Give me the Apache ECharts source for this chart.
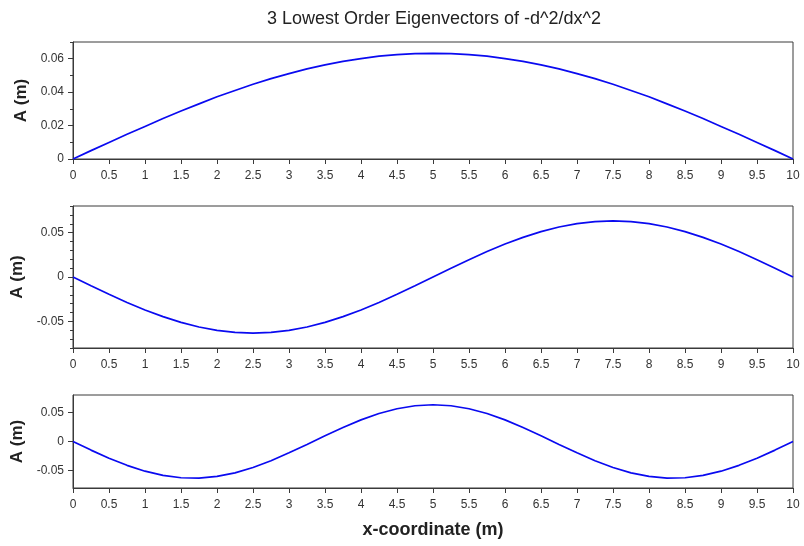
<!DOCTYPE html>
<html lang="en">
<head>
    <meta charset="UTF-8">
    <title>3 Lowest Order Eigenvectors</title>
    <script src="https://cdn.jsdelivr.net/npm/echarts@6/dist/echarts.min.js"></script>
    <style>
        html, body { margin: 0; padding: 0; background: #fff; }
        #chart { width: 804px; height: 546px; }
    </style>
</head>
<body>
    <div id="chart"></div>
    <script>
        // x positions (m)
        var xValues = [0, 0.25, 0.5, 0.75, 1, 1.25, 1.5, 1.75, 2, 2.25, 2.5, 2.75, 3, 3.25, 3.5, 3.75, 4, 4.25, 4.5, 4.75,
                       5, 5.25, 5.5, 5.75, 6, 6.25, 6.5, 6.75, 7, 7.25, 7.5, 7.75, 8, 8.25, 8.5, 8.75, 9, 9.25, 9.5, 9.75, 10];

        // amplitudes
        var mode1 = [0, 0.0050, 0.0099, 0.0148, 0.0195, 0.0242, 0.0287, 0.0330, 0.0372, 0.0410,
                     0.0447, 0.0481, 0.0511, 0.0539, 0.0563, 0.0584, 0.0601, 0.0615, 0.0624, 0.0630,
                     0.0632, 0.0630, 0.0624, 0.0615, 0.0601, 0.0584, 0.0563, 0.0539, 0.0511, 0.0481,
                     0.0447, 0.0410, 0.0372, 0.0330, 0.0287, 0.0242, 0.0195, 0.0148, 0.0099, 0.0050, 0];
        var mode2 = [0, -0.0099, -0.0195, -0.0287, -0.0372, -0.0447, -0.0511, -0.0563, -0.0601, -0.0624,
                     -0.0632, -0.0624, -0.0601, -0.0563, -0.0511, -0.0447, -0.0372, -0.0287, -0.0195, -0.0099,
                     0, 0.0099, 0.0195, 0.0287, 0.0372, 0.0447, 0.0511, 0.0563, 0.0601, 0.0624,
                     0.0632, 0.0624, 0.0601, 0.0563, 0.0511, 0.0447, 0.0372, 0.0287, 0.0195, 0.0099, 0];
        var mode3 = [0, -0.0148, -0.0287, -0.0410, -0.0511, -0.0584, -0.0624, -0.0630, -0.0601, -0.0539,
                     -0.0447, -0.0330, -0.0195, -0.0050, 0.0099, 0.0242, 0.0372, 0.0481, 0.0563, 0.0615,
                     0.0632, 0.0615, 0.0563, 0.0481, 0.0372, 0.0242, 0.0099, -0.0050, -0.0195, -0.0330,
                     -0.0447, -0.0539, -0.0601, -0.0630, -0.0624, -0.0584, -0.0511, -0.0410, -0.0287, -0.0148, 0];

        // y tick values
        var topLabelTicks = [0, 0.02, 0.04, 0.06];
        var topMinorTicks = [0.01, 0.03, 0.05, 0.07];
        var midLabelTicks = [-0.05, 0, 0.05];
        var midMinorTicks = [-0.08, -0.07, -0.06, -0.04, -0.03, -0.02, -0.01, 0.01, 0.02, 0.03, 0.04, 0.06, 0.07, 0.08];
        var botLabelTicks = [-0.05, 0, 0.05];

        var titleText = '3 Lowest Order Eigenvectors of -d^2/dx^2';
        var yName = 'A (m)';
        var xName = 'x-coordinate (m)';

        var font = 'Liberation Sans, Arial, sans-serif';
        var axisColor = '#3a3a3a';
        var lineColor = '#0a0af0';

        function pairs(ys) {
            return xValues.map(function (x, i) { return [x, ys[i]]; });
        }

        function xAxisFor(gridIndex, withName) {
            var ax = {
                type: 'value', gridIndex: gridIndex, min: 0, max: 10, interval: 0.5,
                axisLine: { show: true, onZero: false, lineStyle: { color: axisColor, width: 1 } },
                axisTick: { show: true, inside: false, length: 5, lineStyle: { color: axisColor } },
                axisLabel: { margin: 11, color: '#333', fontSize: 12, fontFamily: font },
                splitLine: { show: false }
            };
            if (withName) {
                ax.name = xName;
                ax.nameLocation = 'middle';
                ax.nameGap = 33;
                ax.nameTextStyle = { fontSize: 18, fontWeight: 'bold', color: '#222', fontFamily: font };
            }
            return ax;
        }

        function yAxisMain(gridIndex, min, max, labels) {
            return {
                type: 'value', gridIndex: gridIndex, min: min, max: max, position: 'left',
                name: yName, nameLocation: 'middle', nameRotate: 90, nameGap: 43,
                nameTextStyle: { fontSize: 17, fontWeight: 'bold', color: '#222', fontFamily: font },
                axisLine: { show: true, onZero: false, lineStyle: { color: axisColor, width: 1 } },
                axisTick: { show: true, inside: false, length: 5, customValues: labels, lineStyle: { color: axisColor } },
                axisLabel: { margin: 9, color: '#333', fontSize: 12, fontFamily: font, customValues: labels },
                splitLine: { show: false }
            };
        }

        function yAxisMinor(gridIndex, min, max, ticks) {
            return {
                type: 'value', gridIndex: gridIndex, min: min, max: max, position: 'left', offset: 0,
                axisLine: { show: false, onZero: false },
                axisTick: { show: true, inside: false, length: 3, customValues: ticks, lineStyle: { color: axisColor } },
                axisLabel: { show: false },
                splitLine: { show: false }
            };
        }

        var gridStyle = { show: true, borderColor: axisColor, borderWidth: 1, left: 73, right: 11, containLabel: false };

        var option = {
            animation: false,
            backgroundColor: '#fff',
            title: {
                text: titleText, left: 429, top: 5, textAlign: 'center',
                textStyle: { fontSize: 18, fontWeight: 'normal', color: '#222', fontFamily: font }
            },
            grid: [
                Object.assign({ top: 42, height: 117 }, gridStyle),
                Object.assign({ top: 206, height: 142 }, gridStyle),
                Object.assign({ top: 395, height: 93 }, gridStyle)
            ],
            xAxis: [xAxisFor(0, false), xAxisFor(1, false), xAxisFor(2, true)],
            yAxis: [
                yAxisMain(0, 0, 0.07, topLabelTicks),
                yAxisMain(1, -0.08, 0.08, midLabelTicks),
                yAxisMain(2, -0.08, 0.08, botLabelTicks),
                yAxisMinor(0, 0, 0.07, topMinorTicks),
                yAxisMinor(1, -0.08, 0.08, midMinorTicks)
            ],
            series: [
                { type: 'line', xAxisIndex: 0, yAxisIndex: 0, data: pairs(mode1), showSymbol: false,
                  lineStyle: { color: lineColor, width: 1.7 } },
                { type: 'line', xAxisIndex: 1, yAxisIndex: 1, data: pairs(mode2), showSymbol: false,
                  lineStyle: { color: lineColor, width: 1.7 } },
                { type: 'line', xAxisIndex: 2, yAxisIndex: 2, data: pairs(mode3), showSymbol: false,
                  lineStyle: { color: lineColor, width: 1.7 } }
            ]
        };

        var chart = echarts.init(document.getElementById('chart'));
        chart.setOption(option);
    </script>
</body>
</html>
